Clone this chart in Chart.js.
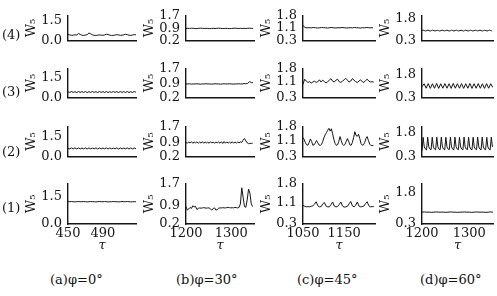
<!DOCTYPE html>
<html>
<head>
<meta charset="utf-8">
<script src="https://cdn.jsdelivr.net/npm/chart.js@4.4.1/dist/chart.umd.min.js"></script>
<style>
html, body { margin: 0; padding: 0; background: #fff; }
body { width: 497px; height: 296px; position: relative; overflow: hidden; font-family: "DejaVu Serif", serif; color: #111; }
.panel { position: absolute; }
.lbl { position: absolute; font-size: 13px; white-space: nowrap; line-height: 16px; }
</style>
</head>
<body>
<script>
// Column / row captions
const colNames = ["(a)\u03c6=0\u00b0", "(b)\u03c6=30\u00b0", "(c)\u03c6=45\u00b0", "(d)\u03c6=60\u00b0"];
const rowNames = ["(4)", "(3)", "(2)", "(1)"];

// Axis ranges and tick labels per column
const tauRange = [[450, 528], [1200, 1350], [1050, 1225], [1200, 1350]];
const tauTicks = [[450, 490], [1200, 1300], [1050, 1150], [1200, 1300]];
const wTicks = [[0.0, 1.5], [0.2, 0.9, 1.7], [0.3, 1.1, 1.8], [0.3, 1.8]];
const wMin = [0.0, 0.2, 0.3, 0.3];
const wMax = [2.2, 1.7, 1.8, 2.2];
const wMaxTopRow = [1.9, 1.7, 1.8, 2.0];

// W5 series, rows (4),(3),(2),(1); start tau + tau step per series
const w_a4 = [0.45,0.41,0.38,0.39,0.42,0.40,0.52,0.45,0.39,0.37,0.40,0.43,0.56,0.50,0.42,0.38,0.37,0.39,0.41,0.40,0.38,0.41,0.47,0.44,0.39,0.37,0.38,0.40,0.43,0.41,0.38,0.39,0.42,0.46,0.43,0.39,0.38,0.40,0.44,0.41];
const w_a3 = [0.42,0.37,0.44,0.37,0.43,0.36,0.44,0.37,0.43,0.37,0.44,0.36,0.43,0.37,0.44,0.37,0.43,0.36,0.44,0.37,0.43,0.37,0.44,0.36,0.43,0.37,0.44,0.37,0.43,0.36,0.44,0.37,0.43,0.37,0.44,0.36,0.43,0.37,0.44,0.38];
const w_a2 = [0.60,0.55,0.62,0.55,0.62,0.54,0.62,0.55,0.61,0.55,0.62,0.54,0.62,0.55,0.61,0.55,0.62,0.54,0.62,0.55,0.61,0.55,0.62,0.54,0.62,0.55,0.61,0.55,0.62,0.54,0.62,0.55,0.61,0.55,0.62,0.54,0.62,0.55,0.61,0.56];
const w_a1 = [1.23,1.22,1.23,1.22,1.21,1.22,1.23,1.22,1.22,1.23,1.22,1.21,1.22,1.23,1.22,1.22,1.21,1.22,1.23,1.22,1.22,1.23,1.22,1.21,1.22,1.22,1.23,1.22,1.22,1.21,1.22,1.23,1.22,1.22,1.23,1.22,1.21,1.22,1.22,1.22];

const w_b4 = [0.92,0.93,0.92,0.94,0.93,0.92,0.91,0.93,0.94,0.93,0.92,0.93,0.92,0.91,0.92,0.93,0.92,0.93,0.94,0.93,0.92,0.92,0.93,0.92,0.91,0.92,0.93,0.94,0.93,0.92,0.93,0.92,0.93,0.92,0.93,0.94,0.93,0.92];
const w_b3 = [0.90,0.90,0.91,0.89,0.90,0.90,0.91,0.90,0.89,0.90,0.90,0.91,0.90,0.90,0.89,0.90,0.91,0.90,0.90,0.89,0.90,0.91,0.90,0.90,0.91,0.90,0.89,0.90,0.90,0.91,0.90,0.90,0.92,0.91,0.93,1.02,0.98,0.96];
const w_b2 = [0.90,0.86,0.93,0.87,0.94,0.86,0.92,0.88,0.93,0.86,0.92,0.87,0.94,0.86,0.93,0.87,0.92,0.86,0.94,0.87,0.93,0.86,0.92,0.88,0.93,0.86,0.94,0.85,0.95,0.86,0.93,0.87,0.92,0.86,0.94,0.86,0.93,0.87,0.92,0.88,0.93,0.90,1.02,1.10,0.98,0.88,0.84,0.86,0.85,0.86];
const w_b1 = [0.85,0.72,0.76,0.82,0.78,0.88,0.84,0.86,0.74,0.78,0.80,0.79,0.80,0.81,0.80,0.79,0.80,0.80,0.76,0.72,0.78,0.80,0.72,0.74,0.79,0.80,0.80,0.81,0.80,0.80,0.81,0.82,0.81,0.80,0.81,0.80,0.82,0.81,0.80,0.82,0.95,1.55,1.20,0.85,0.82,1.10,1.50,1.35,0.95,0.85];

const w_c4 = [1.20,1.08,1.06,1.07,1.06,1.08,1.07,1.05,1.06,1.08,1.07,1.06,1.05,1.07,1.08,1.06,1.05,1.07,1.06,1.08,1.07,1.05,1.06,1.07,1.06,1.08,1.07,1.06,1.05,1.07,1.06,1.08,1.07,1.06,1.07];
const w_c3 = [0.98,1.25,1.15,1.08,1.12,1.05,1.10,1.15,1.08,1.12,1.22,1.10,1.20,1.12,1.05,1.12,1.20,1.28,1.15,1.10,1.20,1.25,1.12,1.08,1.15,1.22,1.30,1.20,1.10,1.15,1.28,1.20,1.12,1.08,1.15,1.22,1.12,1.08,1.18,1.25,1.15,1.10,1.12,1.10];
const w_c2 = [1.25,1.15,0.98,0.88,0.86,1.00,1.18,1.05,0.86,0.88,0.98,1.10,0.98,0.87,0.85,0.90,1.05,1.25,1.40,1.50,1.62,1.72,1.58,1.70,1.45,1.15,0.95,0.86,0.88,1.05,1.30,1.10,0.90,0.85,0.90,1.05,1.20,1.05,0.88,0.86,1.00,1.25,1.55,1.35,1.32,1.42,1.20,0.95,0.86,0.88,1.00,1.20,1.30,1.10,0.92,0.85,0.84,0.85];
const w_c1 = [1.00,0.96,0.94,0.95,0.94,0.96,0.98,1.04,1.13,0.98,0.94,0.95,1.05,1.10,0.97,0.94,0.94,1.02,1.12,0.97,0.94,0.95,1.03,1.12,0.97,0.93,0.94,0.96,1.05,1.14,0.98,0.94,1.00,1.12,0.97,0.94,0.95,0.97,1.06,1.13,0.98,0.94,0.95,0.95];

const w_d4 = [0.97,1.00,0.97,0.94,0.97,1.00,0.96,0.94,0.97,1.00,0.97,0.94,0.97,0.99,0.97,0.94,0.97,1.00,0.97,0.95,0.97,1.00,0.97,0.94,0.96,1.00,0.97,0.94,0.97,1.00,0.97,0.94,0.97,0.99,0.97,0.94,0.97,1.00,0.96,0.94,0.97,1.00,0.97,0.94,0.97,1.00,0.97,0.95,0.97,1.00,0.97,0.94,0.97,0.99,0.97,0.94,0.97,1.00,0.97,0.95];
const w_d3 = [1.00,1.20,0.90,1.21,0.89,1.20,0.90,1.22,0.89,1.20,0.90,1.21,0.90,1.20,0.89,1.22,0.90,1.20,0.90,1.21,0.89,1.20,0.90,1.22,0.89,1.20,0.90,1.21,0.90,1.20,0.89,1.21,0.90,1.20,0.95];
const w_d2 = [0.66,1.52,0.90,0.76,0.71,1.53,0.90,0.76,0.72,1.52,0.90,0.76,0.71,1.53,0.90,0.75,0.72,1.53,0.90,0.76,0.71,1.52,0.90,0.76,0.72,1.53,0.90,0.75,0.71,1.53,0.90,0.76,0.72,1.52,0.90,0.76,0.71,1.53,0.90,0.76,0.72,1.53,0.90,0.75,0.71,1.52,0.90,0.76,0.72,1.53,0.90,0.76,0.71,1.53,0.90,0.75,0.72,1.52,0.90,0.76,0.71,1.53,0.90];
const w_d1 = [0.86,0.87,0.86,0.86,0.85,0.86,0.87,0.86,0.86,0.86,0.85,0.86,0.87,0.86,0.86,0.85,0.86,0.86,0.87,0.86,0.86,0.85,0.86,0.87,0.86,0.86,0.86,0.85,0.86,0.87,0.86];

const series = [
    [w_a4, w_a3, w_a2, w_a1],
    [w_b4, w_b3, w_b2, w_b1],
    [w_c4, w_c3, w_c2, w_c1],
    [w_d4, w_d3, w_d2, w_d1]
];
const tauStep = [[2, 2, 2, 2], [4, 4, 3, 3], [5, 4, 3, 4], [2.5, 4.4, 2.4, 5]];

// Layout (page pixels)
const axisX = [68, 186, 303, 422];
const plotR = [136, 254, 375, 493];
const rowTop = [10, 63, 121, 178];
const rowBot = [51, 108, 167, 224];
const capLeft = [50, 176, 297, 420];
const LEFT = 62, TOP = 8;

const ink = '#151515';
const tickFont = { family: 'DejaVu Serif', size: 13 };

function addLabel(text, x, y) {
    const d = document.createElement('div');
    d.className = 'lbl';
    d.textContent = text;
    d.style.left = x + 'px';
    d.style.top = y + 'px';
    document.body.appendChild(d);
}

// Build the 16 panels
for (let c = 0; c < 4; c++) {
    for (let r = 0; r < 4; r++) {
        const bottomRow = r === 3;
        const plotW = plotR[c] - axisX[c];
        const plotH = rowBot[r] - rowTop[r];
        const xH = bottomRow ? 30 : 0;
        const padB = bottomRow ? 0 : 3;

        const div = document.createElement('div');
        div.className = 'panel';
        div.style.left = (axisX[c] - LEFT) + 'px';
        div.style.top = (rowTop[r] - TOP) + 'px';
        const cv = document.createElement('canvas');
        cv.width = LEFT + plotW + 3;
        cv.height = TOP + plotH + xH + padB;
        div.appendChild(cv);
        document.body.appendChild(div);

        const vals = series[c][r];
        const pts = vals.map((v, i) => ({ x: tauRange[c][0] + i * tauStep[c][r], y: v }));

        new Chart(cv, {
            type: 'line',
            data: { datasets: [{ data: pts, borderColor: ink, borderWidth: 1, pointRadius: 0, tension: 0 }] },
            options: {
                responsive: false,
                animation: false,
                devicePixelRatio: 1,
                events: [],
                layout: { padding: { top: TOP, right: 3, left: 0, bottom: padB } },
                plugins: { legend: { display: false }, tooltip: { enabled: false } },
                scales: {
                    x: {
                        type: 'linear',
                        min: tauRange[c][0],
                        max: tauRange[c][1],
                        grid: { display: false, drawTicks: false },
                        border: { color: ink, width: 1.4 },
                        ticks: { display: bottomRow, autoSkip: false, maxRotation: 0, padding: 2, font: tickFont, color: ink, callback: v => String(v) },
                        afterBuildTicks: s => { s.ticks = tauTicks[c].map(v => ({ value: v })); },
                        title: { display: bottomRow, text: '\u03c4', color: ink, font: { family: 'DejaVu Serif', size: 13, style: 'italic' }, padding: { top: 0, bottom: 1 } },
                        afterFit: s => { s.height = xH; }
                    },
                    y: {
                        min: wMin[c],
                        max: r === 0 ? wMaxTopRow[c] : wMax[c],
                        grid: { display: false, drawTicks: false },
                        border: { color: ink, width: 1.4 },
                        ticks: { autoSkip: false, padding: 6, font: tickFont, color: ink, callback: v => v.toFixed(1) },
                        afterBuildTicks: s => { s.ticks = wTicks[c].map(v => ({ value: v })); },
                        title: { display: true, text: 'W\u2085', color: ink, font: { family: 'DejaVu Serif', size: 13 }, padding: { top: 18, bottom: 0 } },
                        afterFit: s => { s.width = LEFT; }
                    }
                }
            }
        });
    }
}

// Row labels and column captions
const rowLabelY = [27, 84, 144, 200];
rowNames.forEach((t, r) => addLabel(t, 2, rowLabelY[r]));
colNames.forEach((t, c) => addLabel(t, capLeft[c], 272));
</script>
</body>
</html>
